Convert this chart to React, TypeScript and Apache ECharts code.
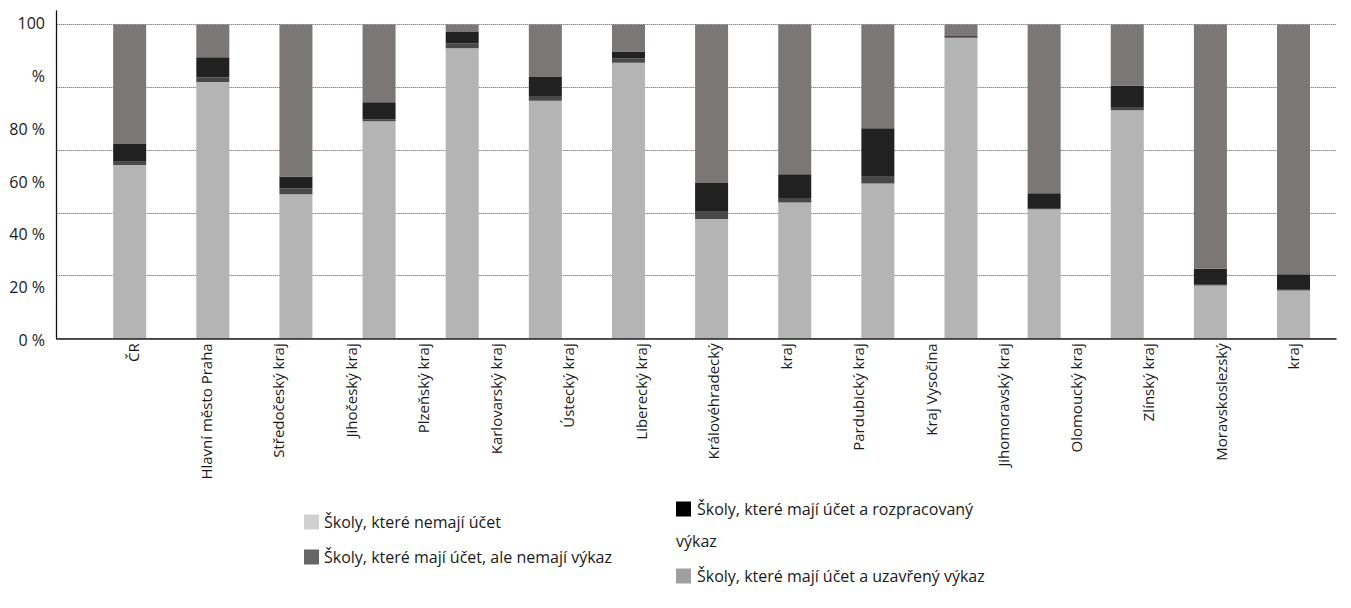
import React, { useEffect, useRef } from "react";
import * as echarts from "echarts";

// Bars: 15 regions (stacked to 100 %)
const barCategories = [
  "ČR",
  "Hlavní město Praha",
  "Středočeský kraj",
  "Jihočeský kraj",
  "Plzeňský kraj",
  "Karlovarský kraj",
  "Ústecký kraj",
  "Liberecký kraj",
  "Královéhradecký kraj",
  "Pardubický kraj",
  "Kraj Vysočina",
  "Jihomoravský kraj",
  "Olomoucký kraj",
  "Zlínský kraj",
  "Moravskoslezský kraj",
];

// Axis labels as printed (two names broken into separate labels)
const xLabels = [
  "ČR",
  "Hlavní město Praha",
  "Středočeský kraj",
  "Jihočeský kraj",
  "Plzeňský kraj",
  "Karlovarský kraj",
  "Ústecký kraj",
  "Liberecký kraj",
  "Královéhradecký",
  "kraj",
  "Pardubický kraj",
  "Kraj Vysočina",
  "Jihomoravský kraj",
  "Olomoucký kraj",
  "Zlínský kraj",
  "Moravskoslezský",
  "kraj",
];

const yLabels = ["0 %", "20 %", "40 %", "60 %", "80 %", "%", "100"];

const seriesNames = [
  "Školy, které nemají účet",
  "Školy, které mají účet, ale nemají výkaz",
  "Školy, které mají účet a rozpracovaný výkaz",
  "Školy, které mají účet a uzavřený výkaz",
];

const noAccount = [55.2, 81.7, 45.9, 69.2, 92.4, 75.7, 87.8, 38.0, 43.3, 49.3, 95.8, 41.1, 72.7, 16.8, 15.2];
const accountNoReport = [1.1, 1.5, 1.9, 0.6, 1.6, 1.5, 1.4, 2.6, 1.4, 2.2, 0.5, 0.4, 1.0, 0.5, 0.5];
const reportInProgress = [5.6, 6.4, 3.8, 5.4, 3.6, 6.1, 2.2, 8.9, 7.6, 15.4, 0.0, 4.7, 6.9, 4.9, 4.7];
const reportClosed = [38.1, 10.4, 48.4, 24.8, 2.4, 16.7, 8.6, 50.5, 47.7, 33.1, 3.7, 53.8, 19.4, 77.8, 79.6];

const barColors = ["#b5b4b5", "#484848", "#212121", "#7b7777"];
const legendColors = ["#d0d0d0", "#666666", "#000000", "#a0a0a0"];

const FONT = '"Open Sans", "Noto Sans", sans-serif';

export default function App() {
  const ref = useRef<HTMLDivElement>(null);

  useEffect(() => {
    if (!ref.current) return;
    const chart = echarts.init(ref.current, undefined, { renderer: "svg" });
    const seriesData = [noAccount, accountNoReport, reportInProgress, reportClosed];

    const legendText = (text: string, x: number, y: number) => ({
      type: "text",
      style: {
        text,
        x,
        y,
        fill: "#1a1a1a",
        font: `16px ${FONT}`,
        verticalAlign: "middle",
        textVerticalAlign: "middle",
      },
    });
    const legendRect = (color: string, x: number, cy: number) => ({
      type: "rect",
      shape: { x, y: cy - 7.5, width: 15, height: 15 },
      style: { fill: color },
    });

    chart.setOption({
      animation: false,
      backgroundColor: "#ffffff",
      textStyle: { fontFamily: FONT },
      grid: [
        { left: 56.7, right: 15, top: 24.5, bottom: 269.7 },
        { left: 88.1, right: 15.9, top: 24.5, bottom: 269.7 },
        { left: 133, right: 58, top: 24.5, bottom: 269.7 },
        { left: 56.7, right: 15, top: 11, bottom: 269.7 },
        { left: 56.7, right: 15, top: 23.3, bottom: 268 },
      ],
      xAxis: [
        {
          gridIndex: 0,
          type: "category",
          data: [""],
          z: 5,
          axisLine: { show: true, lineStyle: { color: "#222222", width: 1.6 } },
          axisTick: { show: false },
          axisLabel: { show: false },
        },
        { gridIndex: 1, type: "category", data: barCategories, show: false },
        {
          gridIndex: 2,
          type: "category",
          data: xLabels,
          boundaryGap: false,
          axisLine: { show: false },
          axisTick: { show: false },
          axisLabel: {
            interval: 0,
            rotate: 90,
            margin: 5,
            fontSize: 15,
            color: "#1a1a1a",
            fontFamily: FONT,
          },
        },
        { gridIndex: 3, type: "category", data: [""], show: false },
        { gridIndex: 4, type: "category", data: [""], show: false },
      ],
      yAxis: [
        {
          gridIndex: 0,
          type: "value",
          min: 0,
          max: 100,
          interval: 20,
          axisLine: { show: false },
          axisTick: { show: false },
          axisLabel: { show: false },
          splitLine: { show: true, lineStyle: { color: "#555555", type: "dotted", width: 1 } },
        },
        { gridIndex: 1, type: "value", min: 0, max: 100, show: false },
        { gridIndex: 2, type: "value", min: 0, max: 100, show: false },
        {
          gridIndex: 3,
          type: "value",
          min: 0,
          max: 100,
          z: 5,
          axisLine: { show: true, lineStyle: { color: "#111111", width: 1.3 } },
          axisTick: { show: false },
          axisLabel: { show: false },
          splitLine: { show: false },
        },
        {
          gridIndex: 4,
          type: "category",
          data: yLabels,
          boundaryGap: false,
          axisLine: { show: false },
          axisTick: { show: false },
          splitLine: { show: false },
          axisLabel: { margin: 11.7, fontSize: 16, color: "#1a1a1a", fontFamily: FONT, interval: 0 },
        },
      ],
      series: seriesNames.map((name, i) => ({
        name,
        type: "bar",
        stack: "total",
        xAxisIndex: 1,
        yAxisIndex: 1,
        barWidth: 33,
        data: seriesData[i],
        itemStyle: { color: barColors[i] },
      })),
      graphic: [
        legendRect(legendColors[0], 304, 522),
        legendText(seriesNames[0], 324, 522),
        legendRect(legendColors[1], 304, 557),
        legendText(seriesNames[1], 324, 557),
        legendRect(legendColors[2], 676, 509),
        legendText("Školy, které mají účet a rozpracovaný", 697, 509),
        legendText("výkaz", 676, 541),
        legendRect(legendColors[3], 676, 576),
        legendText(seriesNames[3], 697, 576),
      ],
    });

    return () => chart.dispose();
  }, []);

  return (
    <div
      ref={ref}
      style={{ position: "fixed", left: 0, top: 0, width: 1351, height: 608, background: "#fff" }}
    />
  );
}
